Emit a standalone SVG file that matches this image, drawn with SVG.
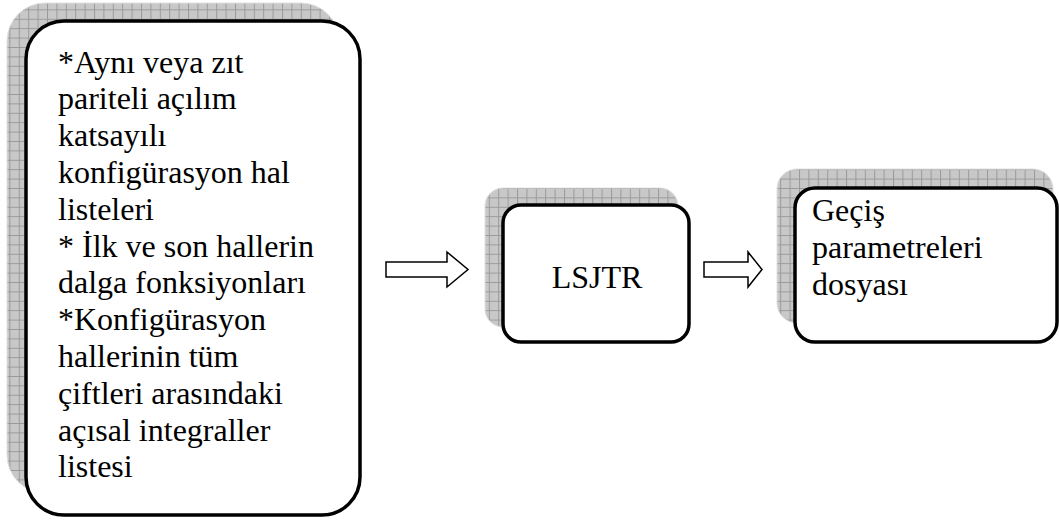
<svg xmlns="http://www.w3.org/2000/svg" width="1059" height="520" viewBox="0 0 1059 520">
<style>
.box{fill:#fff;stroke:#000;stroke-width:3.5}
.shadow{fill:url(#grid);stroke:#e0e0e0;stroke-width:1}
.arrow{fill:#fff;stroke:#000;stroke-width:1.5;stroke-linejoin:miter}
</style>
<defs>
<pattern id="grid" patternUnits="userSpaceOnUse" width="9.4" height="9.4">
<rect width="9.4" height="9.4" fill="#c8c8c8"/>
<path d="M0 0.5H9.4M0.5 0V9.4" stroke="#9a9a9a" stroke-width="1"/>
</pattern>
</defs>
<g id="node-inputs">
<rect class="shadow" x="7" y="3" width="332" height="490" rx="38" ry="38"/>
<rect class="box" x="26" y="21" width="334" height="494" rx="38" ry="38"/>
<text font-family="'Liberation Serif', 'Times New Roman', 'DejaVu Serif', serif" font-size="32" fill="#000">
<tspan x="58" y="72.5">*Aynı veya zıt</tspan>
<tspan x="58" y="109.3">pariteli açılım</tspan>
<tspan x="58" y="146.1">katsayılı</tspan>
<tspan x="58" y="182.9">konfigürasyon hal</tspan>
<tspan x="58" y="219.7">listeleri</tspan>
<tspan x="58" y="256.5">* İlk ve son hallerin</tspan>
<tspan x="58" y="293.3">dalga fonksiyonları</tspan>
<tspan x="58" y="330.1">*Konfigürasyon</tspan>
<tspan x="58" y="366.9">hallerinin tüm</tspan>
<tspan x="58" y="403.7">çiftleri arasındaki</tspan>
<tspan x="58" y="440.5">açısal integraller</tspan>
<tspan x="58" y="477.3">listesi</tspan>
</text>
</g>
<g id="node-lsjtr">
<rect class="shadow" x="485" y="188" width="193" height="139" rx="18" ry="18"/>
<rect class="box" x="503" y="205" width="186" height="137" rx="18" ry="18"/>
<text x="597" y="288" text-anchor="middle" font-family="'Liberation Serif', 'Times New Roman', 'DejaVu Serif', serif" font-size="32" fill="#000">LSJTR</text>
</g>
<g id="node-output">
<rect class="shadow" x="777" y="169" width="276" height="154" rx="20" ry="20"/>
<rect class="box" x="795" y="188" width="262" height="154" rx="20" ry="20"/>
<text font-family="'Liberation Serif', 'Times New Roman', 'DejaVu Serif', serif" font-size="32" fill="#000">
<tspan x="812" y="221">Geçiş</tspan>
<tspan x="812" y="258">parametreleri</tspan>
<tspan x="812" y="295">dosyası</tspan>
</text>
</g>
<g id="connectors">
<polygon class="arrow" points="386,262 447,262 447,252 468,269.5 447,287 447,277 386,277"/>
<polygon class="arrow" points="704,262 748,262 748,252 762,269.5 748,287 748,277 704,277"/>
</g>
</svg>
